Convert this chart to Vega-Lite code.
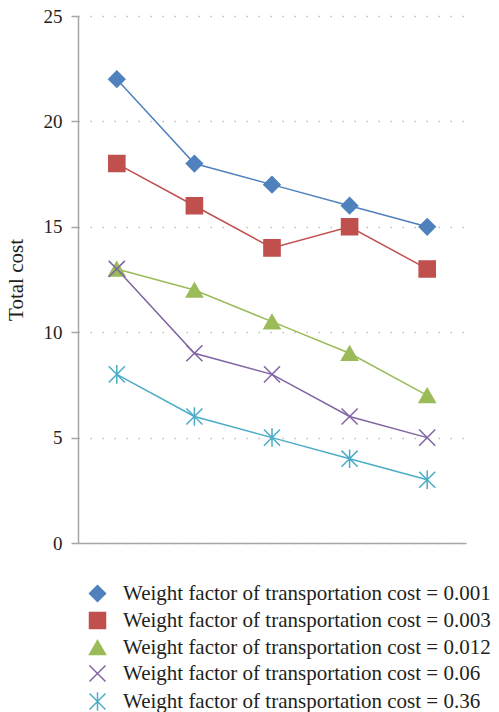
{
  "$schema": "https://vega.github.io/schema/vega-lite/v6.json",
  "width": 388,
  "height": 527,
  "autosize": {"type": "none"},
  "padding": {"left": 78, "top": 16, "right": 33, "bottom": 169},
  "config": {"view": {"stroke": null}, "font": "Liberation Serif"},
  "data": {
    "values": [
      {"series": "Weight factor of transportation cost = 0.001", "step": 1, "cost": 22},
      {"series": "Weight factor of transportation cost = 0.001", "step": 2, "cost": 18},
      {"series": "Weight factor of transportation cost = 0.001", "step": 3, "cost": 17},
      {"series": "Weight factor of transportation cost = 0.001", "step": 4, "cost": 16},
      {"series": "Weight factor of transportation cost = 0.001", "step": 5, "cost": 15},
      {"series": "Weight factor of transportation cost = 0.003", "step": 1, "cost": 18},
      {"series": "Weight factor of transportation cost = 0.003", "step": 2, "cost": 16},
      {"series": "Weight factor of transportation cost = 0.003", "step": 3, "cost": 14},
      {"series": "Weight factor of transportation cost = 0.003", "step": 4, "cost": 15},
      {"series": "Weight factor of transportation cost = 0.003", "step": 5, "cost": 13},
      {"series": "Weight factor of transportation cost = 0.012", "step": 1, "cost": 13},
      {"series": "Weight factor of transportation cost = 0.012", "step": 2, "cost": 12},
      {"series": "Weight factor of transportation cost = 0.012", "step": 3, "cost": 10.5},
      {"series": "Weight factor of transportation cost = 0.012", "step": 4, "cost": 9},
      {"series": "Weight factor of transportation cost = 0.012", "step": 5, "cost": 7},
      {"series": "Weight factor of transportation cost = 0.06", "step": 1, "cost": 13},
      {"series": "Weight factor of transportation cost = 0.06", "step": 2, "cost": 9},
      {"series": "Weight factor of transportation cost = 0.06", "step": 3, "cost": 8},
      {"series": "Weight factor of transportation cost = 0.06", "step": 4, "cost": 6},
      {"series": "Weight factor of transportation cost = 0.06", "step": 5, "cost": 5},
      {"series": "Weight factor of transportation cost = 0.36", "step": 1, "cost": 8},
      {"series": "Weight factor of transportation cost = 0.36", "step": 2, "cost": 6},
      {"series": "Weight factor of transportation cost = 0.36", "step": 3, "cost": 5},
      {"series": "Weight factor of transportation cost = 0.36", "step": 4, "cost": 4},
      {"series": "Weight factor of transportation cost = 0.36", "step": 5, "cost": 3}
    ]
  },
  "encoding": {
    "x": {
      "field": "step",
      "type": "ordinal",
      "scale": {"type": "point", "padding": 0.5},
      "axis": {"labels": false, "ticks": false, "title": null, "grid": false, "domainColor": "#A6A6A6", "domainWidth": 1.5}
    },
    "y": {
      "field": "cost",
      "type": "quantitative",
      "scale": {"domain": [0, 25], "nice": false},
      "axis": {
        "values": [0, 5, 10, 15, 20, 25],
        "title": "Total cost",
        "grid": true,
        "gridDash": [1.5, 10.5],
        "gridColor": "#BFBFBF",
        "gridWidth": 1.5,
        "domainColor": "#A6A6A6",
        "domainWidth": 1.5,
        "tickColor": "#A6A6A6",
        "tickSize": 7,
        "tickWidth": 1.5,
        "labelFont": "Liberation Serif",
        "labelFontSize": 19,
        "labelColor": "#231F20",
        "labelPadding": 9,
        "titleFont": "Liberation Serif",
        "titleFontSize": 21,
        "titleFontWeight": "normal",
        "titleColor": "#231F20",
        "titlePadding": 17
      }
    },
    "color": {
      "field": "series",
      "type": "nominal",
      "scale": {
        "domain": [
          "Weight factor of transportation cost = 0.001",
          "Weight factor of transportation cost = 0.003",
          "Weight factor of transportation cost = 0.012",
          "Weight factor of transportation cost = 0.06",
          "Weight factor of transportation cost = 0.36"
        ],
        "range": ["#4F81BD", "#C0504D", "#9BBB59", "#8064A2", "#4BACC6"]
      },
      "legend": {
        "orient": "none",
        "legendX": 9,
        "legendY": 567,
        "title": null,
        "padding": 0,
        "labelFont": "Liberation Serif",
        "labelFontSize": 21,
        "labelColor": "#231F20",
        "labelLimit": 0,
        "labelOffset": 15,
        "rowPadding": 4,
        "symbolSize": 256,
        "symbolStrokeWidth": 1.5,
        "symbolOpacity": 1
      }
    }
  },
  "layer": [
    {
      "mark": {"type": "line", "strokeWidth": 1.5}
    },
    {
      "mark": {"type": "point", "filled": true, "size": 260, "opacity": 1, "strokeWidth": 1.5},
      "encoding": {
        "shape": {
          "field": "series",
          "type": "nominal",
          "scale": {
            "domain": [
              "Weight factor of transportation cost = 0.001",
              "Weight factor of transportation cost = 0.003",
              "Weight factor of transportation cost = 0.012",
              "Weight factor of transportation cost = 0.06",
              "Weight factor of transportation cost = 0.36"
            ],
            "range": ["diamond", "square", "triangle-up", "M-1,-1L1,1M-1,1L1,-1", "M-1,-1L1,1M-1,1L1,-1M0,-1.15L0,1.15"]
          },
          "legend": null
        },
        "stroke": {
          "field": "series",
          "type": "nominal",
          "scale": {
            "domain": [
              "Weight factor of transportation cost = 0.001",
              "Weight factor of transportation cost = 0.003",
              "Weight factor of transportation cost = 0.012",
              "Weight factor of transportation cost = 0.06",
              "Weight factor of transportation cost = 0.36"
            ],
            "range": ["#4F81BD", "#C0504D", "#9BBB59", "#8064A2", "#4BACC6"]
          },
          "legend": null
        }
      }
    }
  ]
}
